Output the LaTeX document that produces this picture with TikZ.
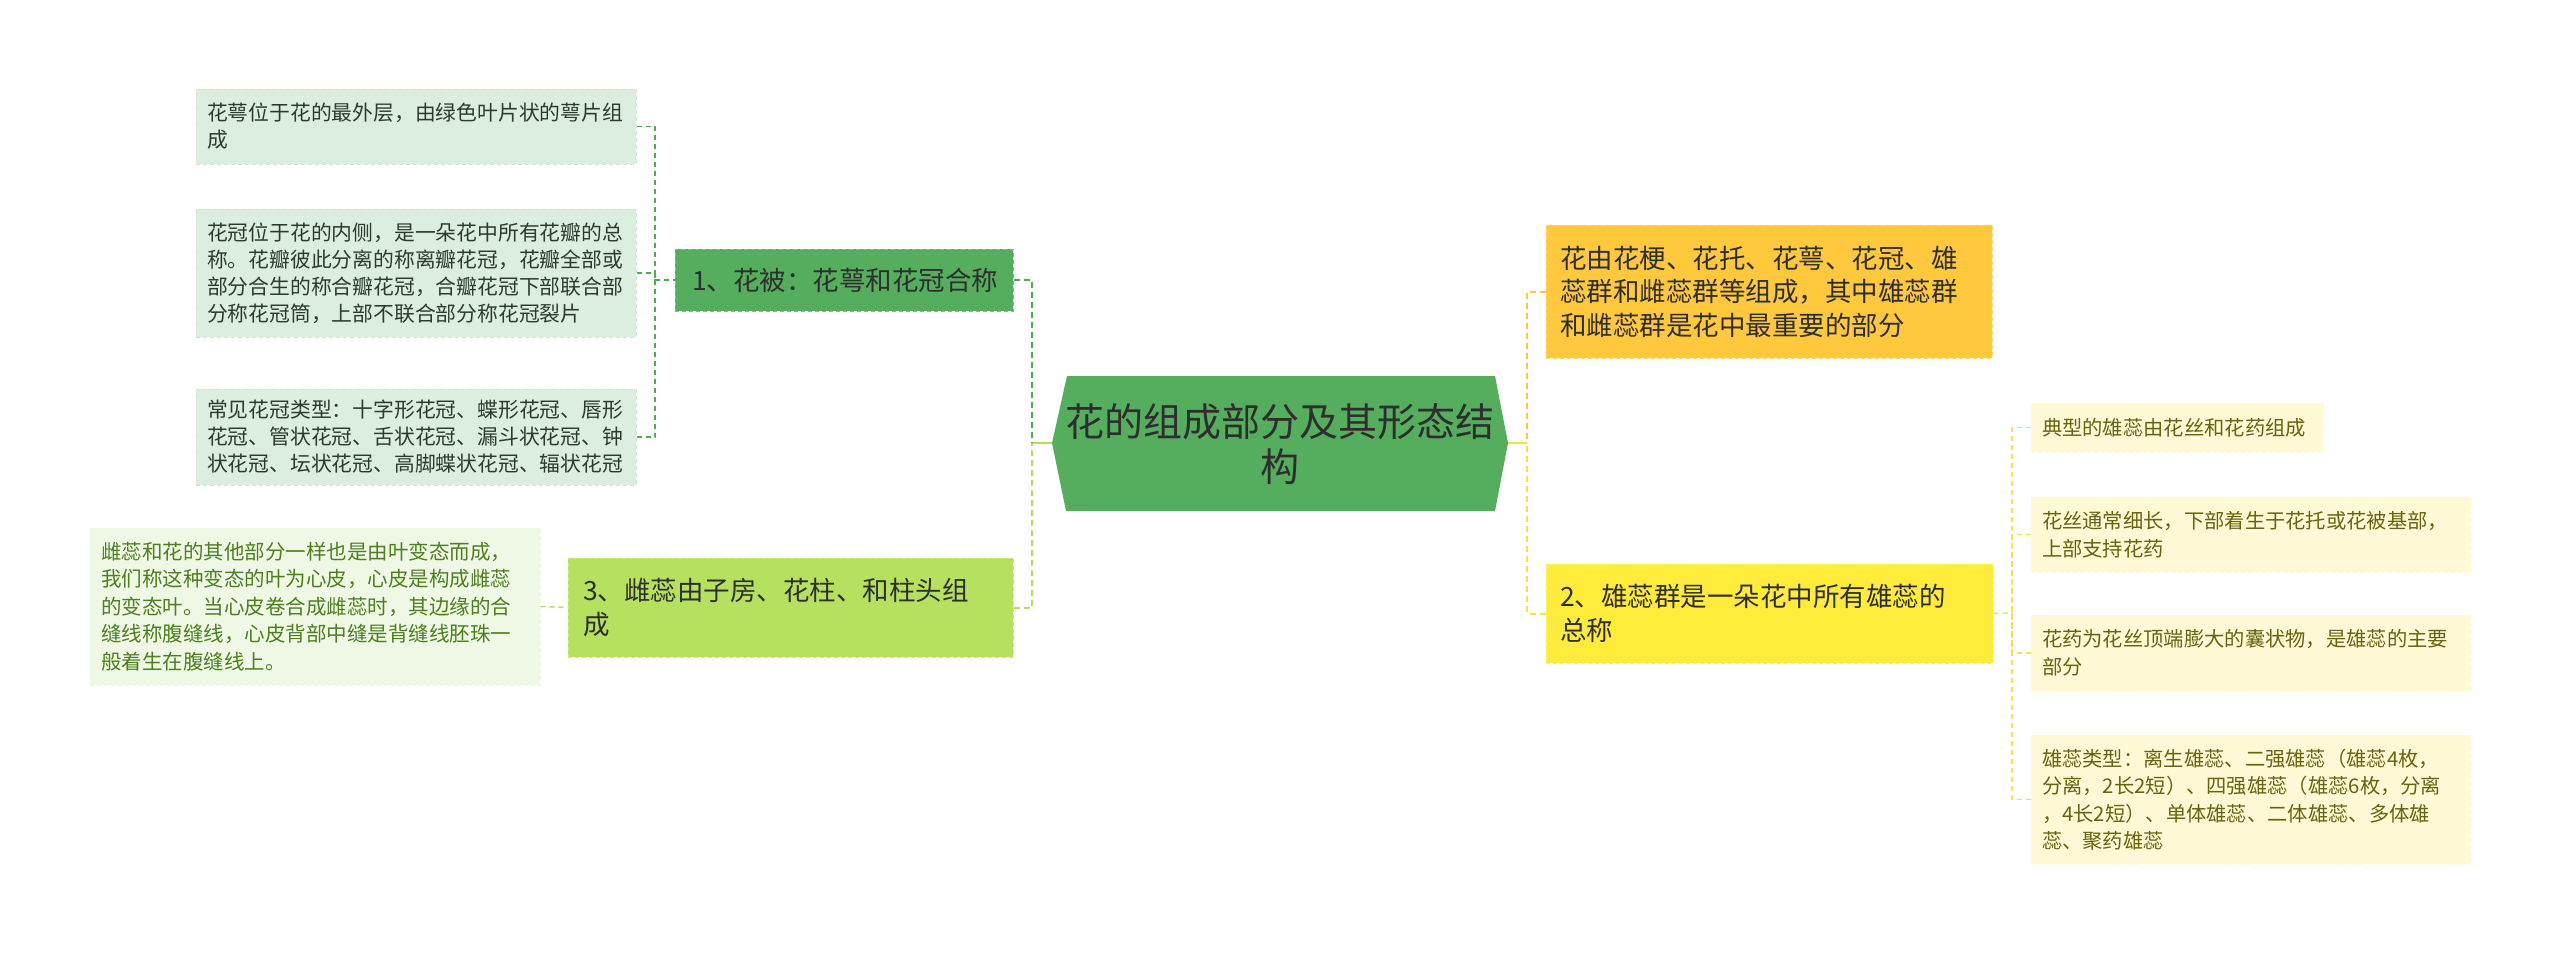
\documentclass[tikz,border=0pt]{standalone}
\usepackage{fontspec}
\newfontfamily\cjk{Noto Sans CJK SC}
\definecolor{cgreen}{HTML}{55AE5E}
\definecolor{cgreenb}{HTML}{7BC282}
\definecolor{leafg}{HTML}{DCEEDD}
\definecolor{leafgb}{HTML}{CFE5D1}
\definecolor{leafgt}{HTML}{2D3B2D}
\definecolor{lime}{HTML}{B5E15F}
\definecolor{limeb}{HTML}{C8EA85}
\definecolor{leafl}{HTML}{EFF8E5}
\definecolor{leaflt}{HTML}{4D7F1E}
\definecolor{gold}{HTML}{FFC83D}
\definecolor{goldb}{HTML}{FFD766}
\definecolor{yel}{HTML}{FFEB3A}
\definecolor{yelb}{HTML}{FFF06E}
\definecolor{leafy}{HTML}{FFF9D6}
\definecolor{leafyt}{HTML}{66640F}
\definecolor{linegreen}{HTML}{4CAF50}
\definecolor{linelime}{HTML}{B4DF5E}
\definecolor{linegold}{HTML}{FFC83D}
\definecolor{lineyel}{HTML}{F7E04A}
\definecolor{txt}{HTML}{2E2E2E}
\tikzset{
  boxbase/.style={rectangle, anchor=center, align=left, inner ysep=0pt, dashed, line width=1pt, dash pattern=on 4pt off 3pt},
  leafG/.style={boxbase, fill=leafg, draw=leafgb, text=leafgt, inner xsep=11pt, font=\cjk\fontsize{20.8}{27}\selectfont},
  leafL/.style={boxbase, fill=leafl, draw=leafl, text=leaflt, inner xsep=11pt, font=\cjk\fontsize{20.5}{27.5}\selectfont},
  leafY/.style={boxbase, fill=leafy, draw=leafy, text=leafyt, inner xsep=11pt, font=\cjk\fontsize{20.3}{27.5}\selectfont},
  mainbox/.style={boxbase, text=txt, font=\cjk\fontsize{26.5}{33.5}\selectfont},
  conn/.style={line width=2pt, dash pattern=on 6pt off 4pt},
  lconn/.style={line width=1.5pt, dash pattern=on 5pt off 4pt},
}
\begin{document}
\begin{tikzpicture}[x=1pt,y=-1pt]
\useasboundingbox[fill=white] (0,0) rectangle (2560,954);

% centre hexagon
\fill[cgreen] (1052,443) -- (1067,376) -- (1495,376) -- (1508,443) -- (1495,511) -- (1066,511) -- cycle;
\coordinate (cl) at (1052,443);
\coordinate (cr) at (1508,443);
\node[align=center, text=txt, font=\cjk\fontsize{39}{45}\selectfont, inner sep=0pt] (c) at (1280,444)
  {花的组成部分及其形态结\\构};

% left branch nodes
\node[mainbox, fill=cgreen, draw=cgreenb, inner xsep=17pt, text width=304pt, minimum height=62pt] (n1) at (844,280)
  {1、花被：花萼和花冠合称};
\node[mainbox, fill=lime, draw=limeb, inner xsep=15pt, text width=415pt, minimum height=99pt] (n3) at (790.5,607.5)
  {3、雌蕊由子房、花柱、和柱头组\\成};

\node[leafG, text width=418pt, minimum height=75pt] (b1) at (416,126.5)
  {花萼位于花的最外层，由绿色叶片状的萼片组\\成};
\node[leafG, text width=418pt, minimum height=128pt] (b2) at (416,273)
  {花冠位于花的内侧，是一朵花中所有花瓣的总\\称。花瓣彼此分离的称离瓣花冠，花瓣全部或\\部分合生的称合瓣花冠，合瓣花冠下部联合部\\分称花冠筒，上部不联合部分称花冠裂片};
\node[leafG, text width=418pt, minimum height=96pt] (b3) at (416,437)
  {常见花冠类型：十字形花冠、蝶形花冠、唇形\\花冠、管状花冠、舌状花冠、漏斗状花冠、钟\\状花冠、坛状花冠、高脚蝶状花冠、辐状花冠};
\node[leafL, text width=428pt, minimum height=157pt] (p1) at (315,606.5)
  {雌蕊和花的其他部分一样也是由叶变态而成，\\我们称这种变态的叶为心皮，心皮是构成雌蕊\\的变态叶。当心皮卷合成雌蕊时，其边缘的合\\缝线称腹缝线，心皮背部中缝是背缝线胚珠一\\般着生在腹缝线上。};

% right branch nodes
\node[mainbox, fill=gold, draw=goldb, inner xsep=14pt, text width=418pt, minimum height=133pt] (nA) at (1769,291.5)
  {花由花梗、花托、花萼、花冠、雄\\蕊群和雌蕊群等组成，其中雄蕊群\\和雌蕊群是花中最重要的部分};
\node[mainbox, fill=yel, draw=yelb, inner xsep=14pt, text width=419pt, minimum height=99pt] (n2) at (1769.5,613.5)
  {2、雄蕊群是一朵花中所有雄蕊的\\总称};

\node[leafY, text width=270pt, minimum height=49pt] (r1) at (2177,427.5)
  {典型的雄蕊由花丝和花药组成};
\node[leafY, text width=418pt, minimum height=75pt] (r2) at (2251,534.5)
  {花丝通常细长，下部着生于花托或花被基部，\\上部支持花药};
\node[leafY, text width=418pt, minimum height=76pt] (r3) at (2251,653)
  {花药为花丝顶端膨大的囊状物，是雄蕊的主要\\部分};
\node[leafY, text width=418pt, minimum height=129pt] (r4) at (2251,799.5)
  {雄蕊类型：离生雄蕊、二强雄蕊（雄蕊4枚，\\分离，2长2短）、四强雄蕊（雄蕊6枚，分离\\，4长2短）、单体雄蕊、二体雄蕊、多体雄\\蕊、聚药雄蕊};

% junction coordinates
\coordinate (jl) at (1032,443);
\coordinate (jr) at (1527,443);
\coordinate (jL1) at (655,280);
\coordinate (jR) at (2012,613);

% centre stubs
\draw[linelime, line width=2pt] (cl) -- (jl);
\draw[lineyel, line width=2pt] (cr) -- (jr);

% left connectors
\draw[conn, linegreen] (n1.east) -| (jl);
\draw[conn, linelime] (n3.east) -| (jl);
\draw[lconn, linegreen] (b1.east) -| (jL1);
\draw[lconn, linegreen] (b2.east) -| (jL1);
\draw[lconn, linegreen] (b3.east) -| (jL1);
\draw[lconn, linegreen] (jL1) -- (n1.west);
\draw[lconn, linelime] (p1.east) -- (n3.west);

% right connectors
\draw[conn, linegold] (nA.west) -| (jr);
\draw[conn, lineyel] (n2.west) -| (jr);
\draw[lconn, lineyel] (n2.east) -- (jR);
\draw[lconn, lineyel] (r1.west) -| (jR);
\draw[lconn, lineyel] (r2.west) -| (jR);
\draw[lconn, lineyel] (r3.west) -| (jR);
\draw[lconn, lineyel] (r4.west) -| (jR);
\end{tikzpicture}
\end{document}
